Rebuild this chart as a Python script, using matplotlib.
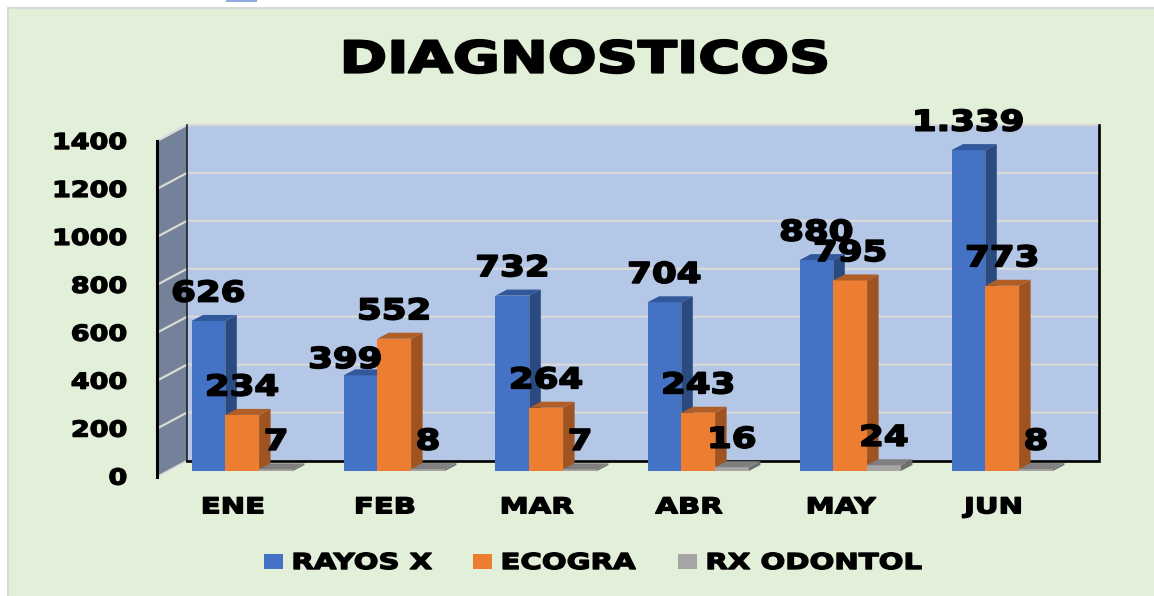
import matplotlib
matplotlib.use("Agg")
import matplotlib.pyplot as plt
from matplotlib.patches import Polygon, Rectangle
from matplotlib.patheffects import AbstractPathEffect
from matplotlib.transforms import Affine2D

title = "DIAGNOSTICOS"
months = ["ENE", "FEB", "MAR", "ABR", "MAY", "JUN"]
rayos = [626, 399, 732, 704, 880, 1339]
ecogra = [234, 552, 264, 243, 795, 773]
odontol = [7, 8, 7, 16, 24, 8]
rayos_labels = ["626", "399", "732", "704", "880", "1.339"]
ecogra_labels = ["234", "552", "264", "243", "795", "773"]
odontol_labels = ["7", "8", "7", "16", "24", "8"]
yticks = [0, 200, 400, 600, 800, 1000, 1200, 1400]
series_names = ["RAYOS X", "ECOGRA", "RX ODONTOL"]

W, H = 1154, 596
FONT = "DejaVu Sans"


class Stretch(AbstractPathEffect):
    """Widen text horizontally about an anchor and thicken it slightly."""
    def __init__(self, sx=1.3, anchor="center", stroke=0.6):
        super().__init__()
        self.sx, self.anchor, self.stroke = sx, anchor, stroke

    def draw_path(self, renderer, gc, tpath, affine, rgbFace=None):
        ext = tpath.get_extents()
        cx = {"center": (ext.x0 + ext.x1) / 2, "left": ext.x0, "right": ext.x1}[self.anchor]
        aff = Affine2D().translate(-cx, 0).scale(self.sx, 1).translate(cx, 0) + affine
        gc0 = renderer.new_gc()
        gc0.copy_properties(gc)
        gc0.set_linewidth(self.stroke)
        gc0.set_foreground("black")
        renderer.draw_path(gc0, tpath, aff, rgbFace)
        gc0.restore()


fig = plt.figure(figsize=(W / 100, H / 100), dpi=100, facecolor="white")

# chart panel
fig.patches.append(Rectangle((8 / W, -0.01), 1, 1.01 - 8 / H, transform=fig.transFigure,
                             fc="#E2EFD9", ec="#D9D9D9", lw=1.5, zorder=-5))
fig.patches.append(Rectangle((226 / W, 1 - 2 / H), 31 / W, 2 / H, transform=fig.transFigure,
                             fc="#8FAADC", ec="none", zorder=-5))

# front plane of the 3D box
L, R, T, B = 157, 1069, 141, 476.5
ax = fig.add_axes([L / W, 1 - B / H, (R - L) / W, (B - T) / H])
ax.set_xlim(-0.5, 5.5)
ax.set_ylim(0, 1400)
ax.patch.set_visible(False)
for s in ax.spines.values():
    s.set_visible(False)

px_x = (R - L) / 6          # px per category
px_y = (B - T) / 1400       # px per value
wdx, wdy = 30 / px_x, 16 / px_y      # wall depth
bdx, bdy = 11.5 / px_x, 6 / px_y     # bar depth
base = 5.5 / px_y                    # bar baseline above wall front edge
bw = 33.8 / px_x
shift = 9.2 / px_x

x0, x1 = -0.5, 5.5
# back wall
ax.add_patch(Polygon([(x0 + wdx, wdy), (x1 + wdx, wdy), (x1 + wdx, 1400 + wdy), (x0 + wdx, 1400 + wdy)],
                     fc="#B4C7E7", ec="none", clip_on=False, zorder=1))
# side wall
ax.add_patch(Polygon([(x0, 0), (x0 + wdx, wdy), (x0 + wdx, 1400 + wdy), (x0, 1400)],
                     fc="#748299", ec="none", clip_on=False, zorder=1))
# gridlines
for v in yticks[1:]:
    ax.plot([x0, x0 + wdx, x1 + wdx], [v, v + wdy, v + wdy], color="#D9D9D9", lw=1.6,
            clip_on=False, zorder=2, solid_joinstyle="miter")
ax.plot([x0, x0 + wdx], [0, wdy], color="#D9D9D9", lw=1.0, clip_on=False, zorder=2)
# wall outlines
ax.plot([x0 + wdx, x0 + wdx], [wdy, 1400 + wdy], color="#222222", lw=1.2, clip_on=False, zorder=3)
ax.plot([x0 + wdx, x1 + wdx, x1 + wdx], [wdy, wdy, 1400 + wdy], color="black", lw=1.9,
        clip_on=False, zorder=3, solid_joinstyle="miter")
ax.plot([x0, x0], [0, 1400], color="black", lw=2.2, clip_on=False, zorder=3)

# bars
palette = [("#4472C4", "#2A4A80", "#31589B"),
           ("#ED7D31", "#9E5321", "#B05E25"),
           ("#A5A5A5", "#6E6E6E", "#7F7F7F")]
all_vals = [rayos, ecogra, odontol]
all_labels = [rayos_labels, ecogra_labels, odontol_labels]
z = 4
handles = []
for i in range(6):
    for k in range(3):
        v = all_vals[k][i]
        front, side, top = palette[k]
        xl = i + shift + (k - 1.5) * bw
        xr = xl + bw
        b = ax.bar(xl, v, width=bw, bottom=base, align="edge", color=front, zorder=z, clip_on=False)
        ax.add_patch(Polygon([(xr, base), (xr + bdx, base + bdy), (xr + bdx, base + v + bdy), (xr, base + v)],
                             fc=side, ec="none", clip_on=False, zorder=z))
        ax.add_patch(Polygon([(xl, base + v), (xr, base + v), (xr + bdx, base + v + bdy), (xl + bdx, base + v + bdy)],
                             fc=top, ec="none", clip_on=False, zorder=z))
        if i == 0:
            handles.append(b[0])
        z += 1

# data labels
for i in range(6):
    for k in range(3):
        v = all_vals[k][i]
        xl = i + shift + (k - 1.5) * bw
        dx, dy = 0, 27.5
        if k == 0 and i == 1:
            dx, dy = -15, 15.5
        ax.annotate(all_labels[k][i], (xl + bw / 2, base + v),
                    xytext=(dx * 0.72, dy * 0.72), textcoords="offset points",
                    ha="center", va="center", fontsize=20.5, family=FONT, weight="bold",
                    color="black", zorder=100, annotation_clip=False,
                    path_effects=[Stretch(1.25, "center", 1.3)])

# axis labels
ax.set_xticks(range(6), months)
ax.set_yticks(yticks, [str(t) for t in yticks])
ax.tick_params(axis="both", length=0)
ax.tick_params(axis="y", pad=21.6)
ax.tick_params(axis="x", pad=15)
for t in ax.get_yticklabels():
    t.set(fontsize=15.8, family=FONT, weight="bold", color="black",
          path_effects=[Stretch(1.23, "right", 1.0)])
for t in ax.get_xticklabels():
    t.set(fontsize=15.8, family=FONT, weight="bold", color="black",
          path_effects=[Stretch(1.33, "center", 1.0)])

# title
fig.text(585 / W, 1 - 60 / H, title, ha="center", va="center", fontsize=31.5,
         family=FONT, weight="bold", color="black",
         path_effects=[Stretch(1.31, "center", 1.6)])

# legend
fs = 15.8
fpx = fs / 0.72
leg = fig.legend(handles, series_names, loc="center left",
                 bbox_to_anchor=(264 / W, 1 - 563 / H), borderaxespad=0, borderpad=0,
                 ncol=3, frameon=False,
                 prop={"family": FONT, "weight": "bold", "size": fs},
                 handlelength=19 / fpx, handleheight=14 / fpx,
                 handletextpad=9 / fpx, columnspacing=75 / fpx)
for t in leg.get_texts():
    t.set_path_effects([Stretch(1.33, "left", 1.0)])

fig.savefig("out.png", dpi=100, facecolor=fig.get_facecolor())
